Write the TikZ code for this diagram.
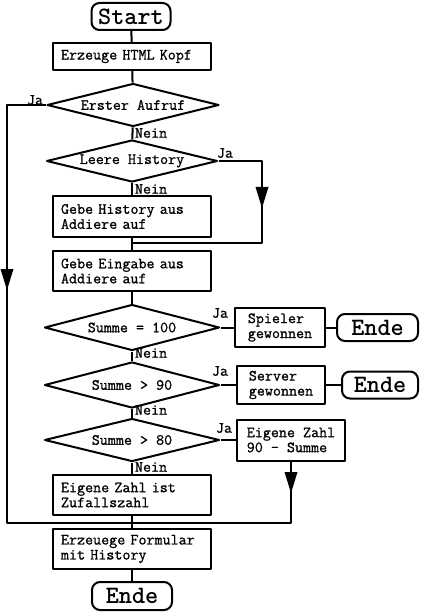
\documentclass[tikz,border=0pt]{standalone}
\usepackage{fontspec}
\newfontfamily\monof[FakeBold=1]{Latin Modern Mono}
\usetikzlibrary{shapes.geometric}
\begin{document}
\begin{tikzpicture}[x=1pt,y=-1pt,line width=2pt,line join=round,
  txt/.style={font=\monof\fontsize{15.6}{15}\selectfont},
  proc/.style={txt,draw,rectangle,minimum width=158pt,minimum height=40pt,align=left,text width=142pt,inner sep=0pt},
  side/.style={txt,draw,rectangle,minimum height=39pt,align=left,inner sep=0pt},
  dec/.style={txt,draw,diamond,aspect=4,inner sep=0pt,minimum width=174pt,minimum height=44pt},
  term/.style={draw,rectangle,rounded corners=8pt,minimum height=27pt,inner sep=0pt,font=\ttfamily\bfseries\fontsize{25}{24}\selectfont},
  lbl/.style={txt,inner sep=0pt},
  arrhead/.pic={\fill (-6.5,0) -- (6.5,0) -- (0,21) -- cycle;}
]
\fill[white] (0,0) rectangle (424,612);
\useasboundingbox (0,0) rectangle (424,612);

\node[term,minimum width=79pt] (start) at (131,16.5) {Start};
\node[proc,minimum height=27pt] (html) at (132,56.5) {Erzeuge HTML Kopf};
\node[dec,minimum width=172pt,minimum height=43pt] (d1) at (133,105) {Erster Aufruf};
\node[dec,minimum width=171pt,minimum height=42pt] (d2) at (132,161) {Leere History};
\node[proc,minimum height=41pt] (hist) at (132,216.5) {Gebe History aus\\Addiere auf};
\node[proc] (eing) at (132,271) {Gebe Eingabe aus\\Addiere auf};
\node[dec,minimum width=175pt,minimum height=46pt] (d3) at (132,327.5) {Summe = 100};
\node[side,minimum width=90pt] (spieler) at (280,327.5) {Spieler\\gewonnen};
\node[term,minimum width=81pt] (ende1) at (377.5,327.5) {Ende};
\node[dec,minimum width=175pt,minimum height=46pt] (d4) at (132,385) {Summe > 90};
\node[side,minimum width=88pt,minimum height=38pt] (server) at (281,385) {Server\\gewonnen};
\node[term,minimum width=76pt] (ende2) at (380,385) {Ende};
\node[dec,minimum width=175pt,minimum height=43pt] (d5) at (132,440) {Summe > 80};
\node[side,minimum width=108pt,minimum height=41pt] (eigen) at (291,440) {Eigene Zahl\\90 – Summe};
\node[proc] (zufall) at (132,495) {Eigene Zahl ist\\Zufallszahl};
\node[proc] (form) at (132,549) {Erzeuege Formular\\mit History};
\node[term,minimum width=80pt,minimum height=28pt] (ende3) at (132,596) {Ende};

\coordinate (jl) at (7,523);
\coordinate (jm) at (132,523);
\coordinate (jh) at (262,243);

\draw (start) -- (html);
\draw (html) -- (d1);
\draw (d1) -- (d2);
\draw (d2) -- (hist);
\draw (hist) -- (eing);
\draw (eing) -- (d3);
\draw (d3) -- (d4);
\draw (d4) -- (d5);
\draw (d5) -- (zufall);
\draw (zufall) -- (form);
\draw (form) -- (ende3);
\draw (d3.east) -- (spieler.west);
\draw (spieler) -- (ende1);
\draw (d4.east) -- (server.west);
\draw (server) -- (ende2);
\draw (d5.east) -- (eigen.west);
\draw (d1.west) -| (jl) -- (eigen.south |- jm) -- (eigen.south);
\draw (d2.east) -| (jh) -- (hist.south |- jh);

\pic at (7,269) {arrhead};
\pic at (262,187) {arrhead};
\pic at (291,472) {arrhead};

\node[lbl] (ja1) at (35,100) {Ja};
\node[lbl,anchor=west] (nein1) at (134,133) {Nein};
\node[lbl] (ja2) at (225,153) {Ja};
\node[lbl,anchor=west] (nein2) at (134,189) {Nein};
\node[lbl] (ja3) at (220,313) {Ja};
\node[lbl,anchor=west] (nein3) at (134,353) {Nein};
\node[lbl] (ja4) at (220,371) {Ja};
\node[lbl,anchor=west] (nein4) at (134,410) {Nein};
\node[lbl] (ja5) at (224,428) {Ja};
\node[lbl,anchor=west] (nein5) at (134,467) {Nein};
\end{tikzpicture}
\end{document}
